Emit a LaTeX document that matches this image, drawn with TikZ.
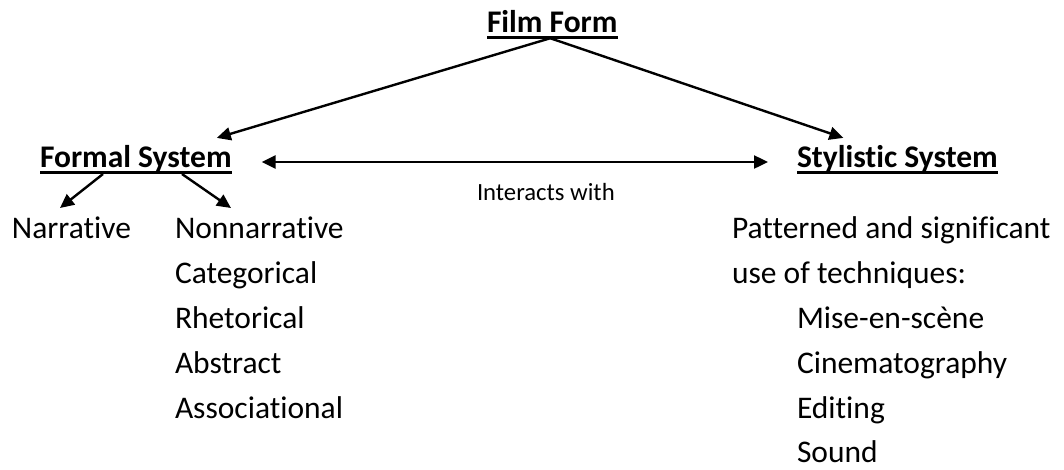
\documentclass[tikz,border=0pt]{standalone}
\usepackage{fontspec}
\setmainfont{Carlito}[Ligatures={NoCommon}]
\usetikzlibrary{arrows.meta}

\tikzset{
  label/.style={anchor=base west, inner sep=0pt, outer sep=0pt,
    font=\fontsize{31.5}{38}\selectfont},
  heading/.style={label, font=\fontsize{31.5}{38}\selectfont\bfseries},
  note/.style={label, font=\fontsize{24.7}{30}\selectfont},
  rule/.style={line width=2.6pt},
  link/.style={line width=2.4pt, -{Triangle[length=14pt,width=13pt]}},
  twoway/.style={line width=2.4pt, {Triangle[length=14pt,width=13pt]}-{Triangle[length=14pt,width=13pt]}}
}

\begin{document}
\begin{tikzpicture}[x=1pt, y=-1pt]
  \useasboundingbox (0,0) rectangle (1064,469);

  % headings
  \node[heading] (ff) at (487,32) {Film Form};
  \node[heading] (fs) at (40,167) {Formal System};
  \node[heading] (ss) at (797,167) {Stylistic System};
  \foreach \h in {ff,fs,ss}
    \draw[rule] ([yshift=-5.5pt]\h.base west) -- ([yshift=-5.5pt]\h.base east);

  \node[note] (iw) at (477,200) {Interacts with};

  % formal system branches
  \node[label] (nar) at (12,238) {Narrative};
  \node[label] (non) at (175,238) {Nonnarrative};
  \node[label] (cat) at (175,283) {Categorical};
  \node[label] (rhe) at (175,328) {Rhetorical};
  \node[label] (abs) at (175,373) {Abstract};
  \node[label] (ass) at (175,418) {Associational};

  % stylistic system
  \node[label] (pat) at (732,238) {Patterned and significant};
  \node[label] (use) at (732,283) {use of techniques:};
  \node[label] (mis) at (797,328) {Mise-en-scène};
  \node[label] (cin) at (797,373) {Cinematography};
  \node[label] (edi) at (797,418) {Editing};
  \node[label] (sou) at (797,462) {Sound};

  % connectors
  \coordinate (apex) at ([xshift=-2pt,yshift=-6pt]ff.south);
  \draw[link] (apex) -- ([xshift=81pt,yshift=7pt]fs.north);
  \draw[link] (apex) -- ([xshift=-54pt,yshift=7pt]ss.north);
  \draw[twoway] ([xshift=30pt,yshift=5pt]fs.base east) -- ([xshift=-29pt,yshift=5pt]ss.base west);
  \draw[link] ([xshift=63pt,yshift=-7pt]fs.base west) -- ([xshift=48pt,yshift=30pt]nar.base west);
  \draw[link] ([xshift=142pt,yshift=-7pt]fs.base west) -- ([xshift=56pt,yshift=30pt]non.base west);
\end{tikzpicture}
\end{document}
